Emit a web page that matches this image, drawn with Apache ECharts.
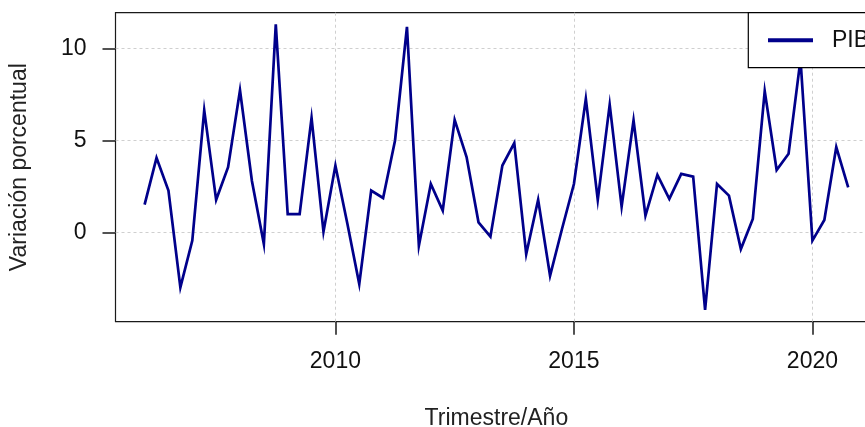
<!DOCTYPE html>
<html>
<head>
<meta charset="utf-8">
<script src="https://cdn.jsdelivr.net/npm/echarts@6/dist/echarts.min.js"></script>
<style>html,body{margin:0;padding:0;background:#fff}#c{width:865px;height:427px}</style>
</head>
<body>
<div id="c"></div>
<script>
const seriesName = 'PIB';
const xTitle = 'Trimestre/Año';
const yTitle = 'Variación porcentual';
const time = [
  2006.00, 2006.25, 2006.50, 2006.75,
  2007.00, 2007.25, 2007.50, 2007.75,
  2008.00, 2008.25, 2008.50, 2008.75,
  2009.00, 2009.25, 2009.50, 2009.75,
  2010.00, 2010.25, 2010.50, 2010.75,
  2011.00, 2011.25, 2011.50, 2011.75,
  2012.00, 2012.25, 2012.50, 2012.75,
  2013.00, 2013.25, 2013.50, 2013.75,
  2014.00, 2014.25, 2014.50, 2014.75,
  2015.00, 2015.25, 2015.50, 2015.75,
  2016.00, 2016.25, 2016.50, 2016.75,
  2017.00, 2017.25, 2017.50, 2017.75,
  2018.00, 2018.25, 2018.50, 2018.75,
  2019.00, 2019.25, 2019.50, 2019.75,
  2020.00, 2020.25, 2020.50, 2020.75
];
const pib = [
  1.52, 4.06, 2.28, -2.97,
  -0.43, 6.63, 1.78, 3.55,
  7.72, 2.8, -0.62, 11.3,
  1.0, 1.0, 6.23, 0.05,
  3.64, 0.5, -2.79, 2.28,
  1.88, 5.0, 11.16, -0.71,
  2.64, 1.2, 6.12, 4.1,
  0.56, -0.22, 3.64, 4.86,
  -1.16, 1.78, -2.34, 0.2,
  2.64, 7.26, 1.78, 6.94,
  1.41, 6.09, 0.92, 3.13,
  1.83, 3.19, 3.04, -4.19,
  2.64, 2.01, -0.89, 0.74,
  7.68, 3.4, 4.28, 9.4,
  -0.43, 0.69, 4.64, 2.46
];
const xTicks = [2010, 2015, 2020];
const yTicks = [0, 5, 10];

const FONT = '"Liberation Sans", Arial, sans-serif';
const chart = echarts.init(document.getElementById('c'), null, {renderer: 'canvas'});
const gridLine = {show: true, lineStyle: {color: '#cfcfcf', type: [3, 3], width: 1}};
chart.setOption({
  animation: false,
  backgroundColor: '#fff',
  grid: {left: 115.5, top: 12.7, width: 761.8, height: 309, show: true,
         outerBoundsMode: 'none', containLabel: false,
         borderColor: '#1a1a1a', borderWidth: 1.2, backgroundColor: 'transparent'},
  legend: {
    show: true, left: 748.3, top: 12.7, orient: 'vertical',
    padding: [16, 60, 16, 19.7],
    backgroundColor: '#fff', borderColor: '#000', borderWidth: 1.2, borderRadius: 0,
    icon: 'rect', itemWidth: 45, itemHeight: 4,
    textStyle: {fontFamily: FONT, fontSize: 23, color: '#111', padding: [0, 0, 0, 14]},
    data: [{name: seriesName, icon: 'rect', itemStyle: {color: '#00008B'}}]
  },
  xAxis: {
    type: 'value', min: 2005.39, max: 2021.36, position: 'bottom',
    name: xTitle, nameLocation: 'middle', nameGap: 85,
    nameTextStyle: {fontFamily: FONT, fontSize: 23, color: '#222'},
    axisLine: {show: false, onZero: false},
    axisTick: {show: true, inside: false, customValues: xTicks, length: 13, lineStyle: {color: '#1a1a1a', width: 1.5}},
    axisLabel: {show: true, customValues: xTicks, margin: 28, fontFamily: FONT, fontSize: 23, color: '#111',
                formatter: v => String(v)},
    splitLine: gridLine
  },
  yAxis: {
    type: 'value', min: -4.83, max: 11.93, position: 'left',
    name: yTitle, nameLocation: 'middle', nameGap: 84, nameRotate: 90,
    nameTextStyle: {fontFamily: FONT, fontSize: 23, color: '#222'},
    axisLine: {show: false, onZero: false},
    axisTick: {show: true, inside: false, customValues: yTicks, length: 13, lineStyle: {color: '#1a1a1a', width: 1.5}},
    axisLabel: {show: true, customValues: yTicks, margin: 29, fontFamily: FONT, fontSize: 23, color: '#111'},
    splitLine: gridLine
  },
  series: [{
    name: seriesName, type: 'line', showSymbol: false, symbol: 'none',
    data: time.map((t, i) => [t, pib[i]]),
    lineStyle: {color: '#00008B', width: 2.7, join: 'miter'},
    itemStyle: {color: '#00008B'},
    z: 2
  }]
});
</script>
</body>
</html>
